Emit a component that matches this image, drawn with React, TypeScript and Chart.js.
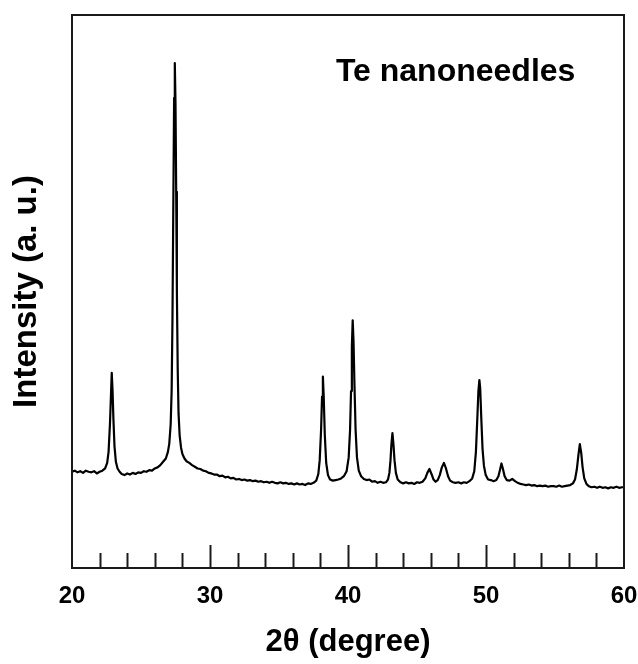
import React, { useEffect, useRef } from "react";
import { Chart, registerables } from "chart.js";

Chart.register(...registerables);

// 2θ positions (degree)
const twoTheta = [
  20.0, 20.2, 20.4, 20.6, 20.8, 21.0, 21.2, 21.4, 21.6, 21.8, 22.0, 22.2, 22.4, 22.55, 22.65, 22.75, 22.82, 22.88, 22.94, 23.0,
  23.08, 23.18, 23.3, 23.45, 23.6, 23.8, 24.0, 24.2, 24.4, 24.6, 24.8, 25.0, 25.2, 25.4, 25.6, 25.8, 26.0, 26.2, 26.4, 26.6,
  26.8, 26.95, 27.05, 27.15, 27.22, 27.28, 27.34, 27.4, 27.45, 27.5, 27.55, 27.6, 27.66, 27.72, 27.8, 27.9, 28.0, 28.15, 28.3, 28.5,
  28.7, 28.9, 29.1, 29.3, 29.5, 29.7, 29.9, 30.1, 30.3, 30.5, 30.7, 30.9, 31.1, 31.3, 31.5, 31.7, 31.9, 32.1, 32.3, 32.5,
  32.7, 32.9, 33.1, 33.3, 33.5, 33.7, 33.9, 34.1, 34.3, 34.5, 34.7, 34.9, 35.1, 35.3, 35.5, 35.7, 35.9, 36.1, 36.3, 36.5,
  36.7, 36.9, 37.1, 37.3, 37.5, 37.7, 37.85, 37.95, 38.05, 38.12, 38.18, 38.24, 38.32, 38.42, 38.55, 38.7, 38.9, 39.1, 39.3, 39.5,
  39.7, 39.9, 40.05, 40.15, 40.22, 40.28, 40.34, 40.4, 40.47, 40.55, 40.65, 40.78, 40.95, 41.15, 41.35, 41.55, 41.75, 41.95, 42.15, 42.35,
  42.55, 42.75, 42.9, 43.0, 43.08, 43.15, 43.22, 43.29, 43.37, 43.47, 43.6, 43.8, 44.0, 44.2, 44.4, 44.6, 44.8, 45.0, 45.2, 45.4,
  45.6, 45.75, 45.9, 46.05, 46.2, 46.35, 46.5, 46.65, 46.8, 46.95, 47.1, 47.25, 47.4, 47.6, 47.8, 48.0, 48.2, 48.4, 48.6, 48.8,
  49.0, 49.15, 49.27, 49.37, 49.45, 49.52, 49.58, 49.66, 49.75, 49.85, 49.98, 50.15, 50.35, 50.55, 50.75, 50.9, 51.02, 51.12, 51.22, 51.35,
  51.5, 51.7, 51.9, 52.1, 52.3, 52.5, 52.7, 52.9, 53.1, 53.3, 53.5, 53.7, 53.9, 54.1, 54.3, 54.5, 54.7, 54.9, 55.1, 55.3,
  55.5, 55.7, 55.9, 56.1, 56.3, 56.45, 56.58, 56.7, 56.8, 56.9, 57.0, 57.12, 57.28, 57.45, 57.65, 57.85, 58.05, 58.25, 58.45, 58.65,
  58.85, 59.05, 59.25, 59.45, 59.65, 59.85, 60.0,
];

// Intensity (a. u.)
const intensity = [
  17.4, 17.6, 17.3, 17.5, 17.2, 17.6, 17.4, 17.3, 17.5, 17.1, 17.4, 17.6, 18.0, 19.0, 21.0, 26.0, 31.0, 35.3, 32.0, 27.0,
  22.0, 19.2, 18.0, 17.4, 17.0, 16.8, 17.1, 16.9, 17.2, 17.0, 17.3, 17.2, 17.5, 17.4, 17.7, 17.6, 18.0, 18.2, 18.6, 19.2,
  19.8, 21.0, 22.5, 26.0, 32.0, 45.0, 65.0, 85.0, 91.3, 84.0, 68.0, 50.0, 36.0, 28.0, 24.0, 21.8, 20.6, 19.8, 19.3, 19.0,
  18.6, 18.3, 18.0, 17.9, 17.6, 17.5, 17.2, 17.1, 16.9, 16.9, 16.6, 16.7, 16.4, 16.5, 16.2, 16.3, 16.0, 16.1, 15.9, 16.0,
  15.8, 15.9, 15.7, 15.8, 15.6, 15.7, 15.5, 15.6, 15.4, 15.6, 15.4, 15.3, 15.5, 15.3, 15.4, 15.2, 15.3, 15.1, 15.3, 15.1,
  15.2, 15.0, 15.3, 15.2, 15.4, 15.8, 17.0, 19.5, 25.0, 31.0, 34.6, 31.0, 24.0, 19.0, 16.8, 16.0, 15.8, 15.9, 16.0, 16.2,
  16.6, 17.5, 20.0, 25.0, 32.0, 40.0, 44.8, 41.0, 33.0, 25.0, 20.0, 17.6, 16.6, 16.1, 15.9, 16.0, 15.6, 15.7, 15.4, 15.6,
  15.4, 15.5, 16.0, 17.2, 19.5, 22.5, 24.4, 22.5, 19.5, 17.2, 16.0, 15.5, 15.3, 15.5, 15.3, 15.4, 15.2, 15.5, 15.4, 15.6,
  16.2, 17.2, 17.9, 17.0, 16.0, 15.6, 15.9, 16.8, 18.2, 19.0, 18.0, 16.6, 15.8, 15.5, 15.4, 15.5, 15.3, 15.5, 15.4, 15.7,
  16.2, 17.5, 21.0, 27.0, 32.0, 34.0, 32.5, 27.0, 21.5, 18.5, 16.8, 16.0, 15.9, 15.7, 15.9, 16.6, 17.8, 18.9, 18.0, 16.6,
  15.9, 15.8, 16.1, 15.7, 15.4, 15.2, 15.1, 15.0, 15.1, 14.9, 15.0, 14.8, 14.9, 14.8, 14.9, 14.7, 14.8, 14.8, 14.7, 14.9,
  14.7, 14.8, 14.9, 15.0, 15.3, 16.0, 17.8, 20.5, 22.4, 20.8, 18.2, 16.2, 15.2, 14.8, 14.6, 14.7, 14.5, 14.7, 14.5, 14.6,
  14.4, 14.6, 14.5, 14.7, 14.5, 14.6, 14.6,
];

const xMin = 20;
const xMax = 60;
const xTickStep = 10;
const yMin = 0;
const yMax = 100;
const tickMarks = [22, 24, 26, 28, 30, 32, 34, 36, 38, 40, 42, 44, 46, 48, 50, 52, 54, 56, 58];
const annotationText = "Te nanoneedles";
const annotationX = 47.8;
const annotationY = 89.7;
const xTitle = "2θ (degree)";
const yTitle = "Intensity (a. u.)";

const FONT = 'Arial, "Liberation Sans", sans-serif';

const framePlugin = {
  id: "frame",
  afterDraw(chart: any) {
    const { ctx, chartArea } = chart;
    const { left, top, right, bottom } = chartArea;
    const x = chart.scales.x;
    const y = chart.scales.y;
    ctx.save();
    ctx.strokeStyle = "#1a1a1a";
    ctx.lineWidth = 2;
    ctx.strokeRect(left, top, right - left, bottom - top);
    tickMarks.forEach((v) => {
      const px = Math.round(x.getPixelForValue(v)) + 0.5;
      const len = v % 10 === 0 ? 23 : 15;
      ctx.beginPath();
      ctx.moveTo(px, bottom);
      ctx.lineTo(px, bottom - len);
      ctx.stroke();
    });
    ctx.fillStyle = "#000";
    ctx.font = `bold 32px ${FONT}`;
    ctx.textAlign = "center";
    ctx.textBaseline = "middle";
    ctx.fillText(annotationText, x.getPixelForValue(annotationX), y.getPixelForValue(annotationY));
    ctx.restore();
  },
};

export default function App() {
  const canvasRef = useRef<HTMLCanvasElement | null>(null);

  useEffect(() => {
    if (!canvasRef.current) return;
    const points = twoTheta.map((t, i) => ({ x: t, y: intensity[i] }));
    const chart = new Chart(canvasRef.current, {
      type: "line",
      data: {
        datasets: [
          {
            data: points,
            borderColor: "#000",
            borderWidth: 2.2,
            borderJoinStyle: "round",
            borderCapStyle: "round",
            pointRadius: 0,
            tension: 0,
            fill: false,
          },
        ],
      },
      options: {
        animation: false,
        responsive: true,
        maintainAspectRatio: false,
        layout: { padding: { top: 15, right: 14, left: 0, bottom: 0 } },
        plugins: { legend: { display: false }, tooltip: { enabled: false } },
        scales: {
          x: {
            type: "linear",
            min: xMin,
            max: xMax,
            grid: { display: false, drawTicks: false },
            border: { display: false },
            ticks: {
              stepSize: xTickStep,
              color: "#000",
              font: { family: FONT, size: 24, weight: "bold" },
              padding: 14,
              maxRotation: 0,
            },
            title: {
              display: true,
              text: xTitle,
              color: "#000",
              font: { family: FONT, size: 31, weight: "bold" },
              padding: { top: 0, bottom: 3 },
            },
            afterFit: (s: any) => {
              s.height = 96;
              s.paddingLeft = 0;
              s.paddingRight = 0;
            },
          },
          y: {
            type: "linear",
            min: yMin,
            max: yMax,
            grid: { display: false, drawTicks: false },
            border: { display: false },
            ticks: { display: false },
            title: {
              display: true,
              text: yTitle,
              color: "#000",
              font: { family: FONT, size: 33, weight: "bold" },
              padding: { top: 7, bottom: 0 },
            },
            afterFit: (s: any) => {
              s.width = 72;
              s.paddingTop = 0;
              s.paddingBottom = 0;
            },
          },
        },
      },
      plugins: [framePlugin],
    });
    return () => chart.destroy();
  }, []);

  return (
    <div style={{ position: "absolute", left: 0, top: 0, width: 638, height: 664, background: "#fff" }}>
      <canvas ref={canvasRef} />
    </div>
  );
}
